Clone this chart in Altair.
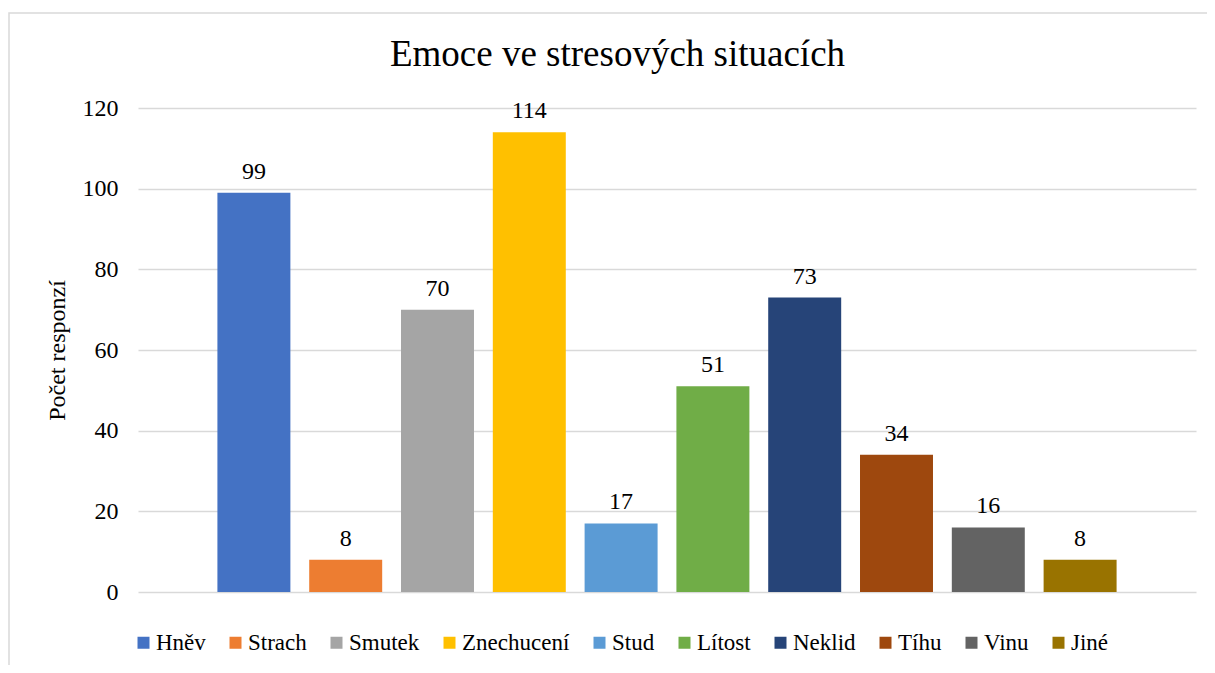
import altair as alt
import pandas as pd

categories = ["Hněv", "Strach", "Smutek", "Znechucení", "Stud", "Lítost", "Neklid", "Tíhu", "Vinu", "Jiné"]
values = [99, 8, 70, 114, 17, 51, 73, 34, 16, 8]
colors = ["#4472C4", "#ED7D31", "#A5A5A5", "#FFC000", "#5B9BD5", "#70AD47", "#264478", "#9E480E", "#636363", "#997300"]
y_ticks = [0, 20, 40, 60, 80, 100, 120]
chart_title = "Emoce ve stresových situacích"
y_title = "Počet responzí"

FONT = "Liberation Serif"

df = pd.DataFrame({"Emoce": categories, "Počet": values})

x_enc = alt.X("Emoce:N", sort=categories, axis=None,
              scale=alt.Scale(paddingInner=0.205, paddingOuter=0.865))
y_enc = alt.Y("Počet:Q", scale=alt.Scale(domain=[0, 120]),
              axis=alt.Axis(values=y_ticks, title=y_title, grid=True, gridColor="#d9d9d9",
                            gridWidth=1.3, domain=False, ticks=False,
                            labelFont=FONT, labelFontSize=24, labelColor="#000000", labelPadding=20,
                            titleFont=FONT, titleFontSize=24, titleFontWeight="normal",
                            titleColor="#000000", titlePadding=13))

bars = alt.Chart(df).mark_bar().encode(
    x=x_enc,
    y=y_enc,
    color=alt.Color("Emoce:N", sort=categories,
                    scale=alt.Scale(domain=categories, range=colors),
                    legend=alt.Legend(title=None, orient="none", legendX=-6, legendY=523,
                                      direction="horizontal", columns=10, symbolType="square",
                                      symbolSize=144, symbolStrokeWidth=0, labelFont=FONT,
                                      labelFontSize=23, labelColor="#000000", labelOffset=1,
                                      columnPadding=18, padding=0, labelLimit=300)),
)

labels = alt.Chart(df).mark_text(baseline="alphabetic", dy=-14, font=FONT, fontSize=24,
                                 color="#000000").encode(
    x=x_enc,
    y=alt.Y("Počet:Q"),
    text="Počet:Q",
)

title_text = alt.Chart(pd.DataFrame({"t": [chart_title]})).mark_text(
    font=FONT, fontSize=37, color="#000000", align="center", baseline="alphabetic"
).encode(text="t:N", x=alt.value(479.5), y=alt.value(-42))

border = alt.Chart(pd.DataFrame({"b": [0]})).mark_rect(
    filled=False, stroke="#d9d9d9", strokeWidth=1.5
).encode(x=alt.value(-129), x2=alt.value(1200), y=alt.value(-95), y2=alt.value(620))

chart = alt.layer(bars, labels, title_text, border).properties(
    width=1058,
    height=484,
    autosize=alt.AutoSizeParams(type="none"),
    padding={"left": 130, "top": 100, "right": 11, "bottom": 73},
    background="white",
).configure_view(stroke=None)

chart.save("out.html", embed_options={"renderer": "svg", "actions": False})
